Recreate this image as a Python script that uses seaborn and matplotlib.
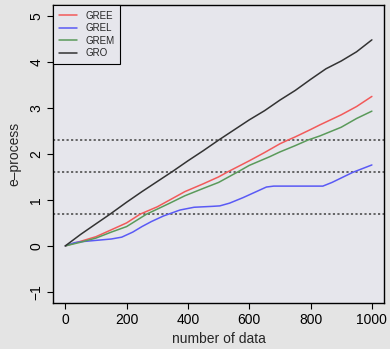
import numpy as np
import pandas as pd
import matplotlib
matplotlib.use('Agg')
import matplotlib.pyplot as plt
import seaborn as sns

# valores
gree_x = [0, 50, 100, 150, 200, 244, 300, 341, 390, 450, 500, 530, 600, 650, 700, 726, 750, 800, 830, 900, 950, 1000]
gree_y = [0, 0.10, 0.20, 0.35, 0.50, 0.69, 0.85, 1.00, 1.18, 1.35, 1.50, 1.61, 1.85, 2.03, 2.22, 2.30, 2.37, 2.53, 2.63, 2.85, 3.03, 3.25]

grel_x = [0, 30, 50, 100, 150, 184, 220, 250, 281, 320, 374, 420, 480, 504, 536, 580, 623, 656, 680, 840, 870, 938, 1000]
grel_y = [0, 0.07, 0.09, 0.12, 0.15, 0.19, 0.30, 0.42, 0.53, 0.65, 0.78, 0.84, 0.86, 0.87, 0.93, 1.05, 1.18, 1.28, 1.30, 1.30, 1.38, 1.60, 1.76]

grem_x = [0, 50, 100, 150, 200, 265, 300, 341, 390, 450, 500, 563, 600, 667, 699, 750, 791, 830, 900, 950, 1000]
grem_y = [0, 0.08, 0.17, 0.30, 0.42, 0.69, 0.80, 0.93, 1.09, 1.25, 1.38, 1.61, 1.75, 1.94, 2.04, 2.18, 2.30, 2.39, 2.58, 2.77, 2.93]

gro_x = [0, 50, 100, 146, 200, 250, 300, 350, 400, 450, 500, 550, 600, 650, 700, 750, 800, 850, 900, 950, 1000]
gro_y = [0, 0.25, 0.48, 0.69, 0.95, 1.18, 1.40, 1.62, 1.85, 2.07, 2.30, 2.52, 2.74, 2.94, 3.17, 3.38, 3.62, 3.85, 4.02, 4.22, 4.48]

limiares = [np.log(2), np.log(5), np.log(10)]
metodos = ['GREE', 'GREL', 'GREM', 'GRO']
cores = ['#f25a5a', '#5a5af5', '#5a9a5a', '#333333']

partes = []
for nome, xs, ys in zip(metodos, [gree_x, grel_x, grem_x, gro_x], [gree_y, grel_y, grem_y, gro_y]):
    partes.append(pd.DataFrame({'n': xs, 'e': ys, 'metodo': nome}))
df = pd.concat(partes, ignore_index=True)

fundo_fig = '#e4e4e4'
fundo_ax = '#e6e6ec'
sns.set_theme(style='ticks')
plt.rcParams['font.family'] = ['Liberation Sans', 'DejaVu Sans']

fig = plt.figure(figsize=(3.9, 3.49), dpi=100, facecolor=fundo_fig)
ax = fig.add_axes([0.136, 0.132, 0.849, 0.854])
ax.set_facecolor(fundo_ax)

for h in limiares:
    ax.axhline(h, color='#5a5a5a', linestyle=(0, (1.2, 1.3)), linewidth=1.3, zorder=1)

sns.lineplot(data=df, x='n', y='e', hue='metodo', hue_order=metodos,
             palette=dict(zip(metodos, cores)), linewidth=1.1, ax=ax, zorder=3)

ax.set_xlim(-40, 1040)
ax.set_ylim(-1.24, 5.24)
ax.set_xticks([0, 200, 400, 600, 800, 1000])
ax.set_yticks([-1, 0, 1, 2, 3, 4, 5])
ax.set_yticklabels(['−1', '0', '1', '2', '3', '4', '5'], rotation=90, va='center')
ax.tick_params(direction='out', length=4, width=0.8, labelsize=10, color='black', labelcolor='black', pad=3)
for s in ax.spines.values():
    s.set_visible(True)
    s.set_color('black')
    s.set_linewidth(1.0)

ax.set_xlabel('number of data', fontsize=10, labelpad=4)
ax.set_ylabel('e–process', fontsize=10, labelpad=6)

sns.move_legend(ax, 'upper left', bbox_to_anchor=(0, 1), borderaxespad=0, title=None,
                fontsize=7, frameon=True, fancybox=False, edgecolor='black', framealpha=1,
                facecolor=fundo_ax, handlelength=1.9, handletextpad=0.8, labelspacing=0.25,
                borderpad=0.6)
ax.get_legend().get_frame().set_linewidth(0.8)

plt.savefig('out.png', dpi=100, facecolor=fundo_fig)
